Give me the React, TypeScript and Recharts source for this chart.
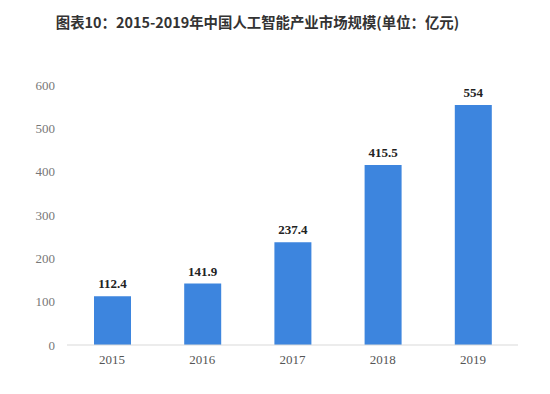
import { BarChart, Bar, XAxis, YAxis, LabelList } from "recharts";

const years = ["2015", "2016", "2017", "2018", "2019"];
const marketSize = [112.4, 141.9, 237.4, 415.5, 554];
const yTicks = [0, 100, 200, 300, 400, 500, 600];

const data = years.map((year, i) => ({ year, value: marketSize[i] }));

export default function App() {
  return (
    <div
      style={{
        position: "fixed",
        top: 0,
        left: 0,
        width: 550,
        height: 394,
        background: "#fff",
      }}
    >
      <div
        style={{
          position: "absolute",
          top: 11,
          left: 0,
          width: 515,
          textAlign: "center",
          fontFamily: "'Noto Sans CJK SC', sans-serif",
          fontWeight: 700,
          fontSize: 14.4,
          color: "#333",
        }}
      >
        图表10：2015-2019年中国人工智能产业市场规模(单位：亿元)
      </div>
      <BarChart
        width={550}
        height={394}
        data={data}
        margin={{ top: 85, right: 32, bottom: 19, left: 0 }}
      >
        <XAxis
          dataKey="year"
          tickLine={false}
          axisLine={{ stroke: "#d9d9d9" }}
          tick={{ fill: "#555", fontSize: 13, fontFamily: "'Liberation Serif', serif" }}
          tickMargin={4}
          height={30}
        />
        <YAxis
          domain={[0, 600]}
          ticks={yTicks}
          width={67}
          axisLine={false}
          tickLine={false}
          tickMargin={6}
          tick={{ fill: "#777", fontSize: 13, fontFamily: "'Liberation Serif', serif" }}
        />
        <Bar dataKey="value" fill="#3d85de" barSize={37} isAnimationActive={false}>
          <LabelList
            dataKey="value"
            position="top"
            offset={8}
            style={{
              fill: "#222",
              fontSize: 13,
              fontWeight: 700,
              fontFamily: "'Liberation Serif', serif",
            }}
          />
        </Bar>
      </BarChart>
    </div>
  );
}
